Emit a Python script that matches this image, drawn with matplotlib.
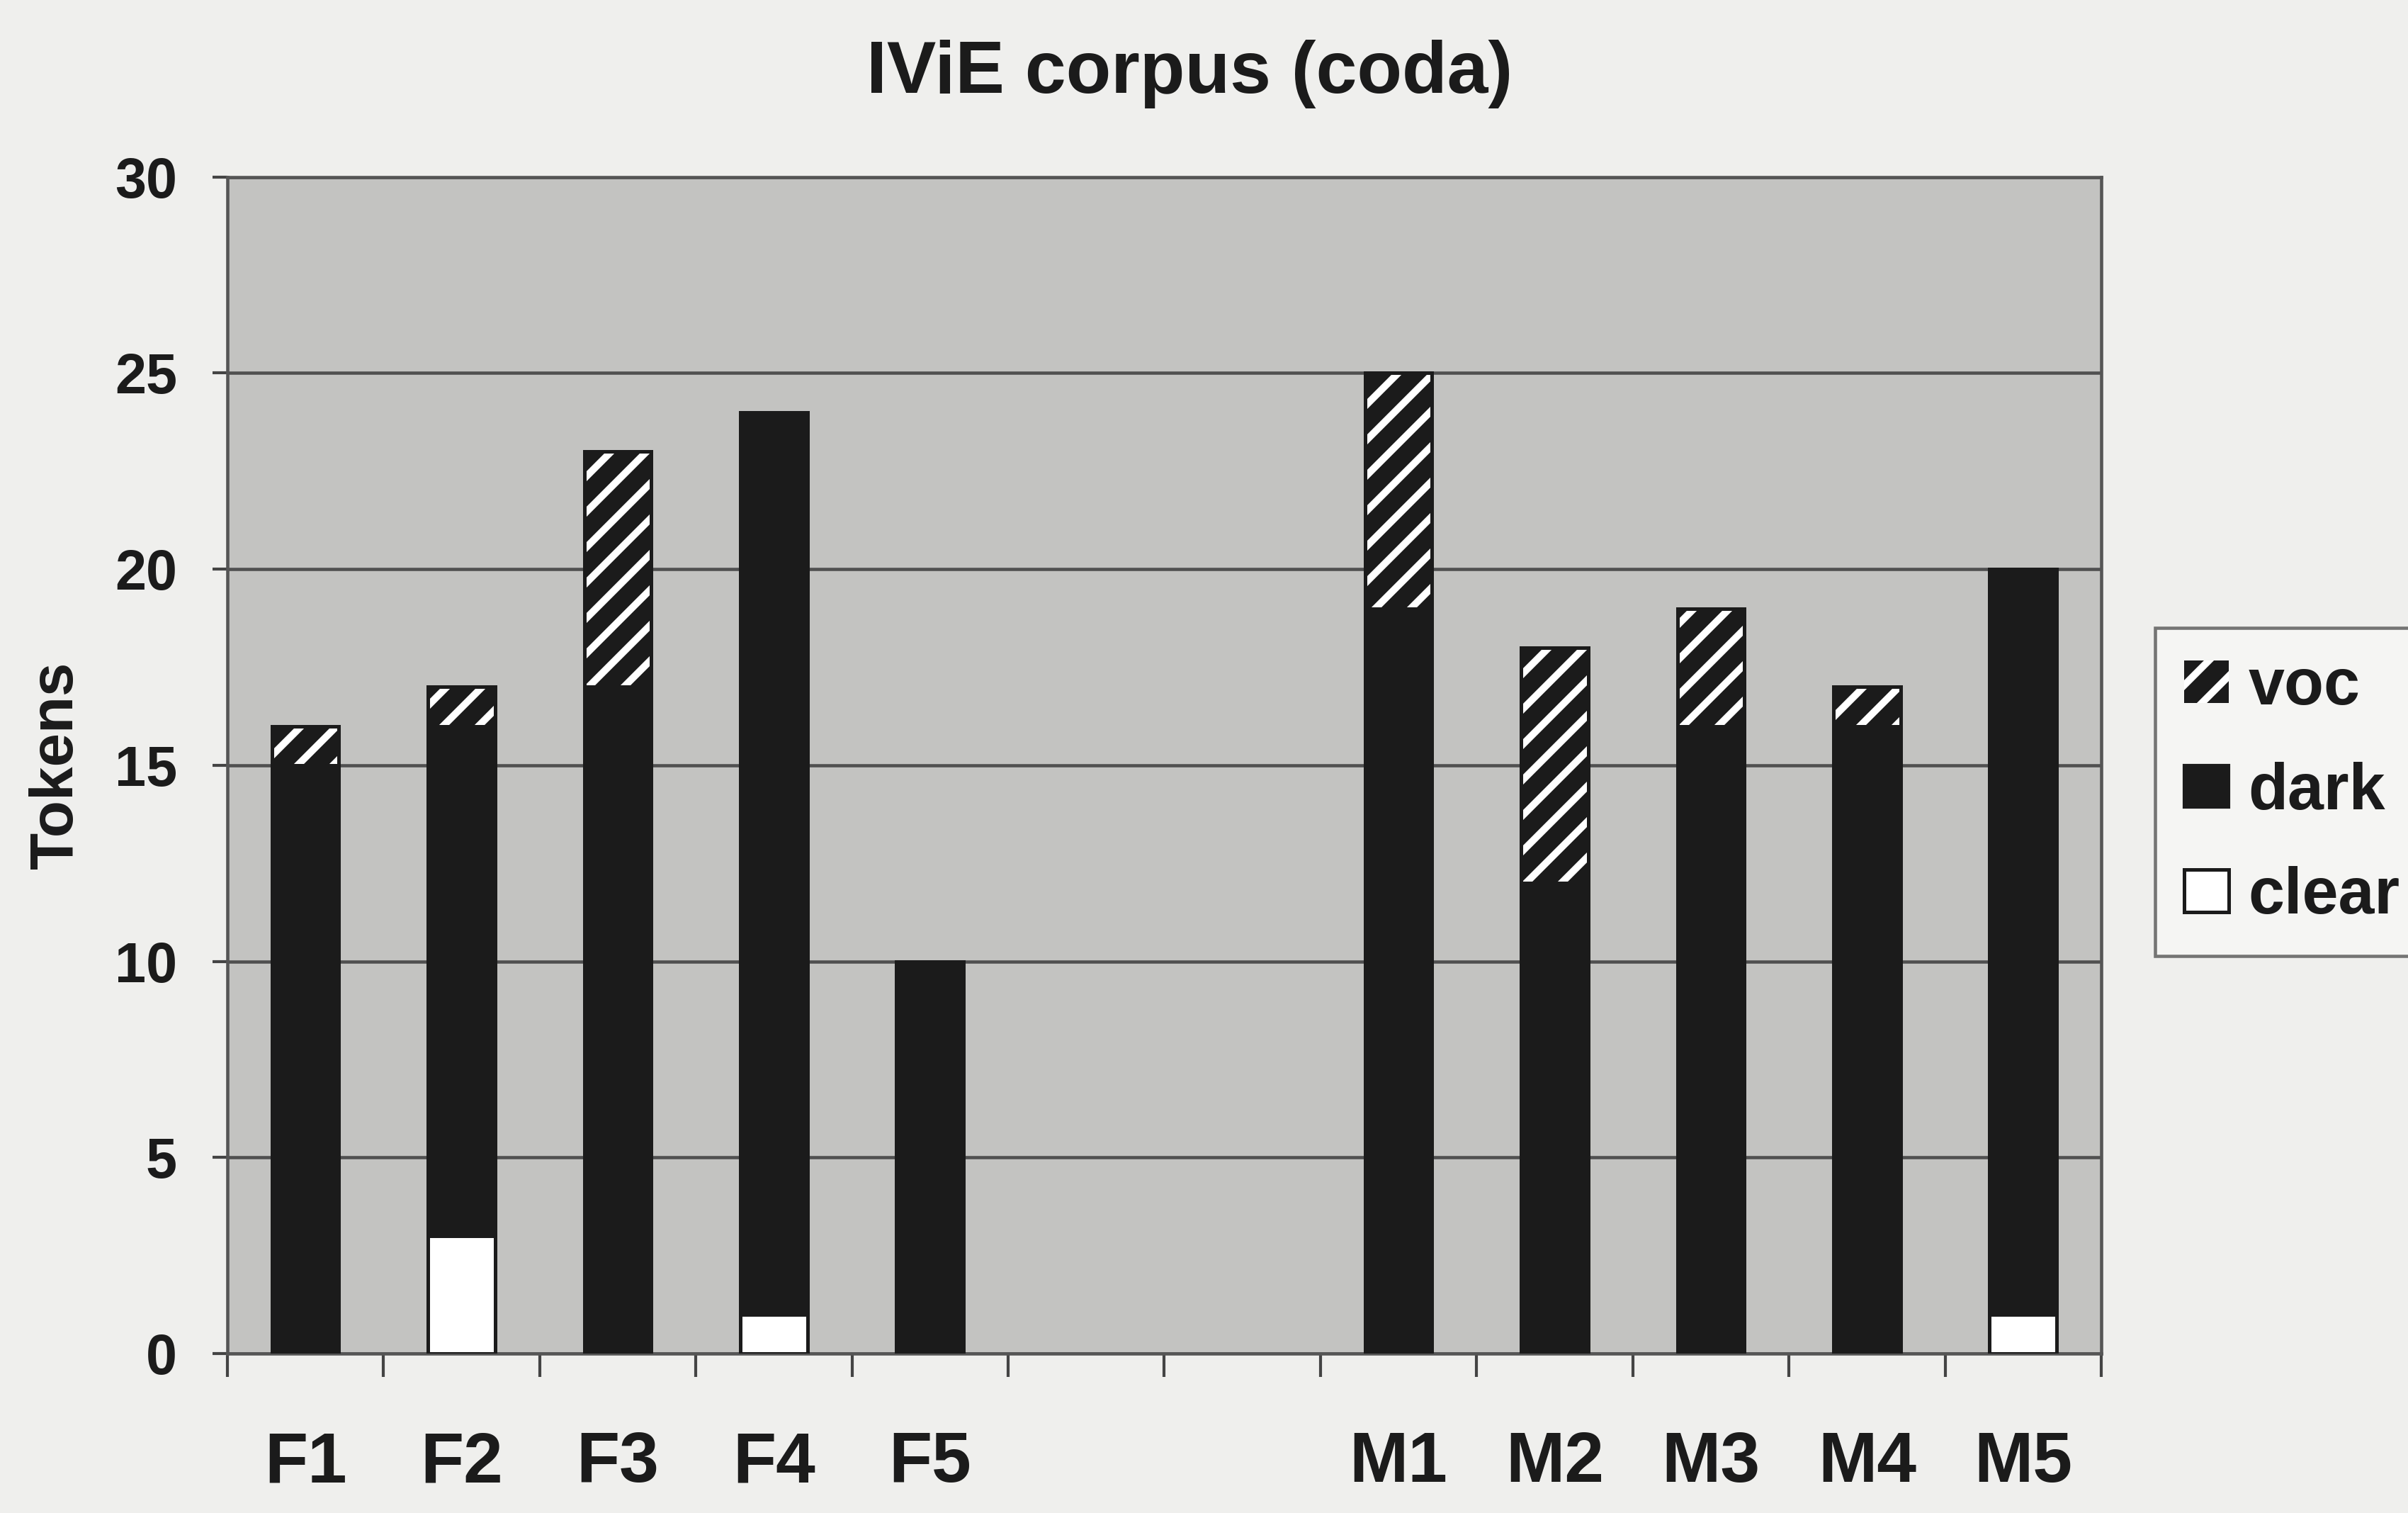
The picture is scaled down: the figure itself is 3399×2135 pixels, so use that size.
import numpy as np
import matplotlib
matplotlib.use("Agg")
import matplotlib.pyplot as plt
import matplotlib.patches as mpatches

plt.rcParams["font.family"] = ["Liberation Sans", "DejaVu Sans"]
plt.rcParams["font.weight"] = "bold"
plt.rcParams["hatch.linewidth"] = 2.4

# tokens per speaker, coda /l/ realisations
speakers = ["F1", "F2", "F3", "F4", "F5", "M1", "M2", "M3", "M4", "M5"]
clear = [0, 3, 0, 1, 0, 0, 0, 0, 0, 1]
dark = [15, 13, 17, 23, 10, 19, 12, 16, 16, 19]
voc = [1, 1, 6, 0, 0, 6, 6, 3, 1, 0]

GAP = 2          # empty slots between the female and male speakers
N_SLOTS = 12
pos = np.array([i if i < 5 else i + GAP for i in range(len(speakers))], float)
clear = np.array(clear, float); dark = np.array(dark, float); voc = np.array(voc, float)

BG_FIG = "#efefed"
BG_AX = "#c3c3c1"
INK = "#1b1b1b"
W = 0.43

fig = plt.figure(figsize=(3399 / 300, 2135 / 300), dpi=300, facecolor=BG_FIG)
ax = fig.add_axes([0.0944, 0.1054, 0.7782, 0.7776])
ax.set_facecolor(BG_AX)

ax.bar(pos, clear, W, color="white", edgecolor=INK, lw=1.2, zorder=3, label="clear")
ax.bar(pos, dark, W, bottom=clear, color=INK, edgecolor=INK, lw=1.2, zorder=3, label="dark")
# white diagonal stripes on black, outline drawn separately
ax.bar(pos, voc, W, bottom=clear + dark, color=INK, edgecolor="white", hatch="//",
       lw=0, zorder=3)
ax.bar(pos, voc, W, bottom=clear + dark, fill=False, edgecolor=INK, lw=1.2, zorder=4)

ax.set_ylim(0, 30)
ax.set_yticks(range(0, 31, 5))
ax.set_xlim(-0.5, N_SLOTS - 0.5)
ax.yaxis.grid(True, color="#505050", lw=1.1, zorder=1)
ax.set_axisbelow(True)

ax.set_xticks(pos)
ax.set_xticklabels(speakers)
ax.set_xticks(np.arange(-0.5, N_SLOTS, 1.0), minor=True)
ax.tick_params(axis="x", which="major", length=0, pad=26, labelsize=24, colors=INK)
ax.tick_params(axis="x", which="minor", length=8, width=1.0, color="#444")
ax.tick_params(axis="y", length=5, width=1.0, color="#444", pad=12, labelsize=19,
               labelcolor=INK)
for s in ax.spines.values():
    s.set_color("#555")
    s.set_linewidth(1.1)

ax.set_ylabel("Tokens", fontsize=20.5, fontweight="bold", color=INK, labelpad=10)
fig.text(0.494, 0.951, "IViE corpus (coda)", ha="center", va="center",
         fontsize=25, fontweight="bold", color=INK)

# legend handles in top-to-bottom order
handles = [
    mpatches.Patch(facecolor=INK, edgecolor="white", hatch="//", lw=0),
    mpatches.Patch(facecolor=INK, edgecolor=INK),
    mpatches.Patch(facecolor="white", edgecolor=INK, lw=1.2),
]
leg = fig.legend(handles, ["voc", "dark", "clear"], loc="upper left",
                 bbox_to_anchor=(0.895, 0.585), frameon=True, fancybox=False,
                 fontsize=22, handlelength=0.68, handleheight=0.62, handletextpad=0.3,
                 labelspacing=0.67, borderpad=0.45, borderaxespad=0)
leg.get_frame().set_edgecolor("#555")
leg.get_frame().set_linewidth(1.1)
leg.get_frame().set_facecolor("#f7f7f5")
for t in leg.get_texts():
    t.set_color(INK)

fig.savefig("out.png", dpi=300, facecolor=BG_FIG)
